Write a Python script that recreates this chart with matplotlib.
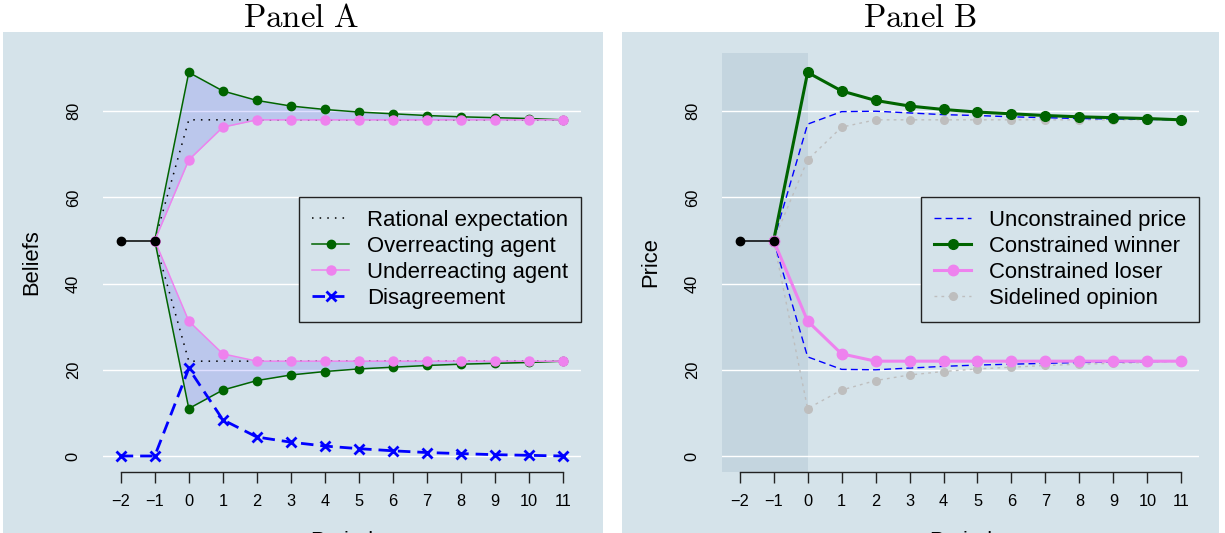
import matplotlib
matplotlib.use('Agg')
import matplotlib.pyplot as plt
from matplotlib.patches import Rectangle

plt.rcParams['font.family'] = ['Liberation Sans', 'DejaVu Sans']
plt.rcParams['mathtext.fontset'] = 'cm'

# periods
pre_x = [-2, -1]
pre_y = [50, 50]
post_x = [-1, 0, 1, 2, 3, 4, 5, 6, 7, 8, 9, 10, 11]
all_x = [-2, -1, 0, 1, 2, 3, 4, 5, 6, 7, 8, 9, 10, 11]

# Panel A series (start at period -1 = 50)
rational_up = [50, 78, 78, 78, 78, 78, 78, 78, 78, 78, 78, 78, 78]
rational_dn = [50, 22, 22, 22, 22, 22, 22, 22, 22, 22, 22, 22, 22]
over_up = [50, 89.0, 84.7, 82.5, 81.2, 80.4, 79.8, 79.4, 79.0, 78.7, 78.5, 78.3, 78.0]
over_dn = [50, 11.0, 15.3, 17.5, 18.8, 19.6, 20.2, 20.6, 21.0, 21.3, 21.5, 21.7, 22.0]
under_up = [50, 68.7, 76.3, 78.0, 78.0, 78.0, 78.0, 78.0, 78.0, 78.0, 78.0, 78.0, 78.0]
under_dn = [50, 31.3, 23.7, 22.0, 22.0, 22.0, 22.0, 22.0, 22.0, 22.0, 22.0, 22.0, 22.0]
disagree = [0, 0, 20.3, 8.4, 4.4, 3.2, 2.3, 1.7, 1.2, 0.8, 0.55, 0.3, 0.15, 0.0]

# Panel B series
uncon_up = [50, 77.0, 79.9, 80.0, 79.6, 79.2, 79.0, 78.7, 78.5, 78.3, 78.2, 78.1, 78.0]
uncon_dn = [50, 23.0, 20.1, 20.0, 20.4, 20.8, 21.1, 21.3, 21.5, 21.7, 21.8, 21.9, 22.0]
winner = over_up
loser = under_dn
side_up = under_up
side_dn = over_dn

yticks = [0, 20, 40, 60, 80]
xtick_labels = [str(v).replace('-', '\u2212') for v in all_x]

bg = '#d5e3ea'
green = '#006400'
pink = '#ee82ee'
blue = '#0000ff'
grey = '#bebebe'
ink = '#222222'

fig = plt.figure(figsize=(12.25, 5.33), dpi=100)
W, H = 1225.0, 533.0
fig.patches.append(Rectangle((3 / W, 0), 600 / W, (H - 32) / H, transform=fig.transFigure,
                             facecolor=bg, edgecolor='none', zorder=-10))
fig.patches.append(Rectangle((622 / W, 0), 597 / W, (H - 32) / H, transform=fig.transFigure,
                             facecolor=bg, edgecolor='none', zorder=-10))

axA = fig.add_axes([103 / W, (H - 471.5) / H, 478 / W, 418.9 / H])
axB = fig.add_axes([722 / W, (H - 471.5) / H, 477 / W, 418.9 / H])


def style(ax, ylabel):
    ax.patch.set_visible(False)
    ax.set_xlim(-2.52, 11.52)
    ax.set_ylim(-3.6, 93.6)
    for s in ['top', 'right', 'left']:
        ax.spines[s].set_visible(False)
    ax.spines['bottom'].set_bounds(-2, 11)
    ax.spines['bottom'].set_color(ink)
    ax.spines['bottom'].set_linewidth(1.0)
    ax.set_xticks(all_x)
    ax.set_xticklabels(xtick_labels)
    ax.set_yticks(yticks)
    ax.set_yticklabels([str(v) for v in yticks], rotation=90, va='center')
    ax.tick_params(axis='x', length=8, width=1.0, color=ink, pad=8, labelsize=11.8)
    ax.tick_params(axis='y', length=0, pad=16, labelsize=11.8)
    for v in yticks:
        ax.axhline(v, color='white', lw=1.0, zorder=1)
    ax.text(-0.1485, 0.5, ylabel, transform=ax.transAxes, rotation=90,
            ha='center', va='center', fontsize=15.8)
    ax.text(0.5, -0.142, 'Period', transform=ax.transAxes, ha='center', va='top',
            fontsize=15.8)


style(axA, 'Beliefs')
style(axB, 'Price')

# Panel A
axA.fill_between(post_x, over_up, under_up, color=blue, alpha=0.12, lw=0, zorder=2)
axA.fill_between(post_x, over_dn, under_dn, color=blue, alpha=0.12, lw=0, zorder=2)
axA.plot(post_x, rational_up, color='black', lw=1.1, ls=(0, (1, 4)), zorder=3,
         label='Rational expectation')
axA.plot(post_x, rational_dn, color='black', lw=1.1, ls=(0, (1, 4)), zorder=3)
axA.plot(post_x, over_up, color=green, lw=1.1, marker='o', ms=6, zorder=4,
         label='Overreacting agent')
axA.plot(post_x, over_dn, color=green, lw=1.1, marker='o', ms=6, zorder=4)
axA.plot(post_x, under_up, color=pink, lw=1.1, marker='o', ms=6.5, zorder=4,
         label='Underreacting agent')
axA.plot(post_x, under_dn, color=pink, lw=1.1, marker='o', ms=6.5, zorder=4)
axA.plot(all_x, disagree, color=blue, lw=2, ls=(0, (4.5, 2.5)), marker='x', ms=7, mew=2,
         zorder=5, label='Disagreement')
axA.plot(pre_x, pre_y, color='black', lw=1.1, marker='o', ms=6, zorder=6)

# Panel B
axB.add_patch(Rectangle((-2.52, -3.6), 2.52, 97.2, facecolor='#c4d5df', edgecolor='none',
                        zorder=0))
axB.plot(post_x, uncon_up, color=blue, lw=1.0, ls=(0, (5, 3)), zorder=3,
         label='Unconstrained price')
axB.plot(post_x, uncon_dn, color=blue, lw=1.0, ls=(0, (5, 3)), zorder=3)
axB.plot(post_x, winner, color=green, lw=2.2, marker='o', ms=7, zorder=5,
         label='Constrained winner')
axB.plot(post_x, loser, color=pink, lw=2.2, marker='o', ms=7.5, zorder=5,
         label='Constrained loser')
axB.plot(post_x, side_up, color=grey, lw=1.0, ls=(0, (2, 3)), marker='o', ms=5.5, zorder=2,
         label='Sidelined opinion')
axB.plot(post_x, side_dn, color=grey, lw=1.0, ls=(0, (2, 3)), marker='o', ms=5.5, zorder=2)
axB.plot(pre_x, pre_y, color='black', lw=1.1, marker='o', ms=6, zorder=6)

for ax in (axA, axB):
    leg = ax.legend(loc='upper right', bbox_to_anchor=(11.52, 60), bbox_transform=ax.transData,
                    borderaxespad=0, fontsize=15.9, fancybox=False, frameon=True,
                    handlelength=1.7, handletextpad=0.8, labelspacing=0.22,
                    borderpad=0.58, framealpha=1)
    leg.get_frame().set_facecolor(bg)
    leg.get_frame().set_edgecolor(ink)
    leg.get_frame().set_linewidth(1.0)
    leg.set_zorder(10)

fig.text(301 / W, 1 - 27 / H, r'$\mathrm{Panel\ A}$', ha='center', va='baseline', fontsize=23.7)
fig.text(920 / W, 1 - 27 / H, r'$\mathrm{Panel\ B}$', ha='center', va='baseline', fontsize=23.7)

fig.savefig('out.png', dpi=100)
